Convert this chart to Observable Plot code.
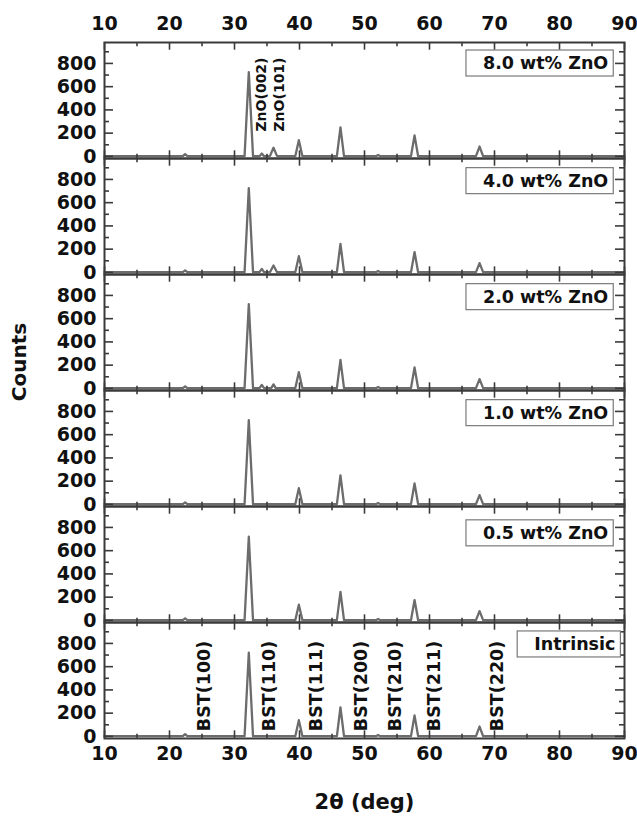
<!DOCTYPE html>
<html><head><meta charset="utf-8">
<script src="https://cdn.jsdelivr.net/npm/d3@7"></script>
<script src="https://cdn.jsdelivr.net/npm/@observablehq/plot@0.6"></script>
<style>
html,body{margin:0;padding:0;background:#fff;}
#chart{position:relative;width:637px;height:819px;}
#ylab{position:absolute;left:19px;top:362px;transform:translate(-50%,-50%) rotate(-90deg);font:bold 20px "DejaVu Sans";white-space:nowrap;color:#111;}
</style></head><body><div id="chart"><div id="ylab">Counts</div></div>
<script>
// ---- data ----
const panels = ["8.0 wt% ZnO", "4.0 wt% ZnO", "2.0 wt% ZnO", "1.0 wt% ZnO", "0.5 wt% ZnO", "Intrinsic"];
const bstPeaks = [22.4, 32.2, 39.9, 46.3, 52.1, 57.7, 67.7];
const bst_8_0 = [20, 725, 140, 250, 12, 180, 85];
const bst_4_0 = [18, 725, 140, 245, 12, 175, 80];
const bst_2_0 = [18, 725, 140, 245, 12, 180, 80];
const bst_1_0 = [18, 725, 140, 250, 12, 180, 80];
const bst_0_5 = [18, 720, 135, 245, 12, 175, 80];
const bst_intr = [20, 720, 140, 250, 12, 180, 85];
const znoPeaks = [34.2, 36.0];
const zno_8_0 = [25, 75];
const zno_4_0 = [30, 60];
const zno_2_0 = [30, 35];
const zno_1_0 = [0, 0];
const zno_0_5 = [0, 0];
const zno_intr = [0, 0];
const bstLabels = ["BST(100)", "BST(110)", "BST(111)", "BST(200)", "BST(210)", "BST(211)", "BST(220)"];
const bstLabelX = [25.4, 35.4, 42.6, 49.5, 54.8, 60.7, 70.5];
const znoLabels = ["ZnO(002)", "ZnO(101)"];
const znoLabelX = [34.1, 36.9];
const xMajor = [10, 20, 30, 40, 50, 60, 70, 80, 90];
const xMinor = [15, 25, 35, 45, 55, 65, 75, 85];
const yMajor = [0, 200, 400, 600, 800];
const yMinor = [100, 300, 500, 700, 900];
const baseline = 2;

// ---- build table ----
const bstSets = [bst_8_0, bst_4_0, bst_2_0, bst_1_0, bst_0_5, bst_intr];
const znoSets = [zno_8_0, zno_4_0, zno_2_0, zno_1_0, zno_0_5, zno_intr];
const lineData = [];
panels.forEach((p, k) => {
  const peaks = bstPeaks.map((x, i) => [x, bstSets[k][i]])
    .concat(znoPeaks.map((x, i) => [x, znoSets[k][i]]))
    .filter(d => d[1] > 0).sort((a, b) => a[0] - b[0]);
  lineData.push({panel: p, x: 10, y: baseline});
  for (const [x, h] of peaks) {
    const w = h >= 500 ? 0.65 : h >= 60 ? 0.55 : 0.35;
    lineData.push({panel: p, x: x - w, y: baseline});
    lineData.push({panel: p, x: x, y: h});
    lineData.push({panel: p, x: x + w, y: baseline});
  }
  lineData.push({panel: p, x: 90, y: baseline});
});

const W = 637, H = 819, mL = 104, mR = 13, mT = 41, mB = 80;
const FW = W - mL - mR, FH = (H - mT - mB) / panels.length;
const ink = "#3a3a3a";
const labelY = {"8.0 wt% ZnO": 800, "4.0 wt% ZnO": 786, "2.0 wt% ZnO": 786, "1.0 wt% ZnO": 786, "0.5 wt% ZnO": 750, "Intrinsic": 792};
const first = () => panels[0], last = () => panels[panels.length - 1];

const svg = Plot.plot({
  width: W, height: H,
  marginLeft: mL, marginRight: mR, marginTop: mT, marginBottom: mB,
  style: {fontFamily: "DejaVu Sans", fontWeight: "bold", background: "white", color: "#111"},
  x: {domain: [10, 90], axis: null},
  y: {domain: [-18, 980], axis: null},
  fy: {domain: panels, padding: 0, axis: null},
  marks: [
    Plot.line(lineData, {x: "x", y: "y", z: "panel", fy: "panel", stroke: "#6c6c6c", strokeWidth: 2.3, strokeLinejoin: "round"}),
    // inward ticks
    Plot.tickX(xMajor, {x: d => d, insetTop: FH - 8, stroke: ink, strokeWidth: 1.6}),
    Plot.tickX(xMinor, {x: d => d, insetTop: FH - 4.5, stroke: ink, strokeWidth: 1.6}),
    Plot.tickX(xMajor, {x: d => d, insetBottom: FH - 8, stroke: ink, strokeWidth: 1.6}),
    Plot.tickX(xMinor, {x: d => d, insetBottom: FH - 4.5, stroke: ink, strokeWidth: 1.6}),
    Plot.tickY(yMajor, {y: d => d, insetRight: FW - 9, stroke: ink, strokeWidth: 1.6}),
    Plot.tickY(yMinor, {y: d => d, insetRight: FW - 5, stroke: ink, strokeWidth: 1.6}),
    Plot.tickY(yMajor, {y: d => d, insetLeft: FW - 9, stroke: ink, strokeWidth: 1.6}),
    Plot.tickY(yMinor, {y: d => d, insetLeft: FW - 5, stroke: ink, strokeWidth: 1.6}),
    Plot.frame({stroke: ink, strokeWidth: 2}),
    // tick labels
    Plot.text(yMajor, {y: d => d, text: d => String(d), frameAnchor: "left", textAnchor: "end", dx: -8, fontSize: 19, fontWeight: "bold"}),
    Plot.text(xMajor, {x: d => d, text: d => String(d), fy: first, frameAnchor: "top", dy: -26, fontSize: 19, fontWeight: "bold"}),
    Plot.text(xMajor, {x: d => d, text: d => String(d), fy: last, frameAnchor: "bottom", dy: 21, fontSize: 19, fontWeight: "bold"}),
    Plot.text(["2θ (deg)"], {text: d => d, fy: last, frameAnchor: "bottom", dy: 70, fontSize: 21, fontWeight: "bold"}),
    // peak annotations
    Plot.text(bstLabels, {text: d => d, x: (d, i) => bstLabelX[i], y: 45, fy: last, rotate: -90, textAnchor: "start", fontSize: 17.5, fontWeight: "bold"}),
    Plot.text(znoLabels, {text: d => d, x: (d, i) => znoLabelX[i], y: 214, fy: first, rotate: -90, textAnchor: "start", fontSize: 14, fontWeight: "bold"}),
    // panel labels (boxed afterwards)
    Plot.text(panels, {text: d => d, fy: d => d, x: d => d === "Intrinsic" ? 88.6 : 87.5, y: d => labelY[d], textAnchor: "end", fontSize: 17.5, fontWeight: "bold"})
  ]
});
document.getElementById("chart").appendChild(svg);

// draw boxes around panel labels
const names = new Set(panels);
svg.querySelectorAll("text").forEach(t => {
  if (!names.has(t.textContent)) return;
  const b = t.getBBox();
  const r = document.createElementNS("http://www.w3.org/2000/svg", "rect");
  r.setAttribute("x", b.x - 17);
  r.setAttribute("y", b.y - 3);
  r.setAttribute("width", b.width + 22);
  r.setAttribute("height", b.height + 6);
  if (t.getAttribute("transform")) r.setAttribute("transform", t.getAttribute("transform"));
  r.setAttribute("fill", "white");
  r.setAttribute("stroke", "#7a7a7a");
  r.setAttribute("stroke-width", "1.2");
  t.parentNode.insertBefore(r, t);
});
</script></body></html>
